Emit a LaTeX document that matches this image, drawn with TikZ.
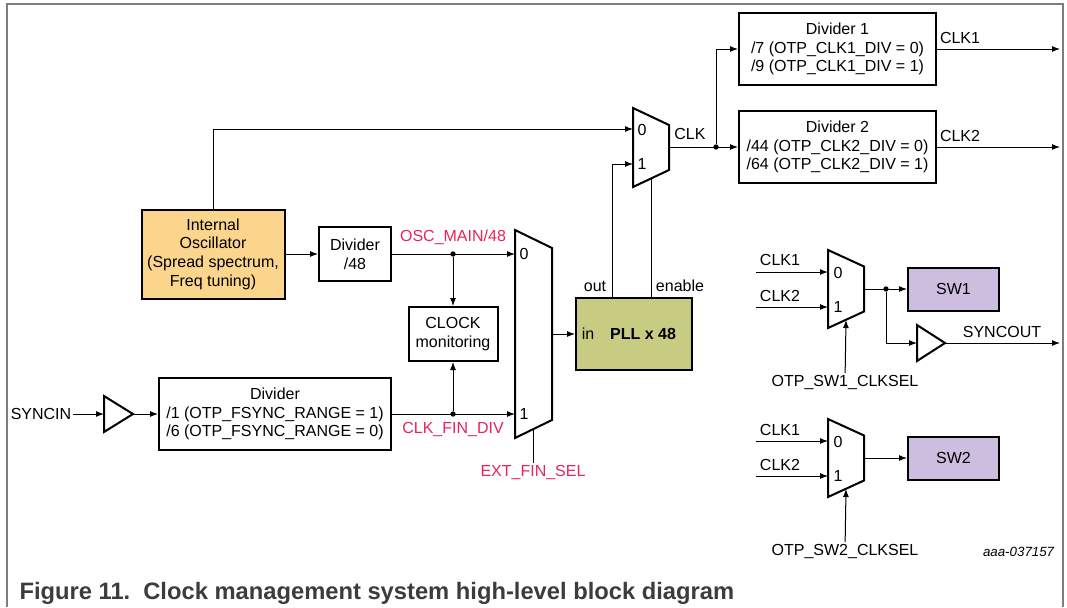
\documentclass[tikz,border=0pt]{standalone}
\usepackage{fontspec}
\setmainfont{Liberation Sans}
\usetikzlibrary{arrows.meta}

\definecolor{oscfill}{RGB}{251,213,139}
\definecolor{pllfill}{RGB}{200,204,130}
\definecolor{swfill}{RGB}{205,190,224}
\definecolor{sigred}{RGB}{232,35,90}
\definecolor{framegray}{RGB}{125,125,125}
\definecolor{capgray}{RGB}{60,60,60}

\tikzset{every picture/.style={line width=0.75pt}}
\tikzset{
  box/.style={draw, line width=1.5pt, align=center, inner sep=0pt},
  arr/.style={-{Latex[length=6pt,width=4.5pt]}},
  lbl/.style={inner sep=1pt},
  sig/.style={text=sigred, inner sep=1pt},
  dot/.style={circle, fill, inner sep=0pt, minimum size=4pt},
  muxbody/.style={draw, line width=1.5pt, line join=miter},
}

\begin{document}
\begin{tikzpicture}[x=0.75pt,y=0.75pt,yscale=-1,xscale=1,font=\fontsize{12}{14}\selectfont]
        \useasboundingbox (0,0) rectangle (1067,607);
        %Frame
        \draw[framegray, line width=1pt] (7,607) -- (7,4) -- (1063,4) -- (1063,607);

        %Blocks
        \node[box, fill=oscfill, minimum width=107.25pt, minimum height=66.75pt] (osc) at (213,254) {Internal\\Oscillator\\(Spread spectrum,\\Freq tuning)};
        \node[box, minimum width=54pt, minimum height=40.5pt] (div48) at (355,254) {Divider\\/48};
        \node[box, minimum width=66.75pt, minimum height=40.5pt] (mon) at (453,334) {CLOCK\\monitoring};
        \node[box, minimum width=174pt, minimum height=54pt] (divs) at (275,414) {Divider\\/1 (OTP\_FSYNC\_RANGE = 1)\\/6 (OTP\_FSYNC\_RANGE = 0)};
        \node[box, fill=pllfill, minimum width=87pt, minimum height=54pt] (pll) at (634,334) {};
        \node[lbl] (pllin) at (588,334) {in};
        \node[lbl, font=\fontsize{12}{14}\selectfont\bfseries] (plltxt) at (643,334) {PLL x 48};
        \node[box, minimum width=147.75pt, minimum height=54pt] (div1) at (837.5,49) {Divider 1\\/7 (OTP\_CLK1\_DIV = 0)\\/9 (OTP\_CLK1\_DIV = 1)};
        \node[box, minimum width=147.75pt, minimum height=54pt] (div2) at (837.5,147) {Divider 2\\/44 (OTP\_CLK2\_DIV = 0)\\/64 (OTP\_CLK2\_DIV = 1)};
        \node[box, fill=swfill, minimum width=68.25pt, minimum height=32.25pt] (sw1) at (953.5,289) {SW1};
        \node[box, fill=swfill, minimum width=68.25pt, minimum height=32.25pt] (sw2) at (953.5,458) {SW2};

        %Mux EXT_FIN_SEL
        \draw[muxbody] (515,230) -- (552,248) -- (552,420) -- (515,438) -- cycle;
        \coordinate (fmux-in0) at (515,254);
        \coordinate (fmux-in1) at (515,414);
        \coordinate (fmux-out) at (552,334);
        \coordinate (fmux-sel) at (533,429);
        \node[lbl] (fmux0) at (524,254) {0};
        \node[lbl] (fmux1) at (524,414) {1};

        %Mux CLK
        \draw[muxbody] (633,108) -- (669,125) -- (669,170) -- (633,187) -- cycle;
        \coordinate (cmux-in0) at (633,129);
        \coordinate (cmux-in1) at (633,164);
        \coordinate (cmux-out) at (669,147);
        \coordinate (cmux-sel) at (651,178.5);
        \node[lbl] (cmux0) at (642,130) {0};
        \node[lbl] (cmux1) at (642,164) {1};

        %Mux SW1
        \draw[muxbody] (828,250) -- (864,266.5) -- (864,311.5) -- (828,328) -- cycle;
        \coordinate (smux1-in0) at (828,272);
        \coordinate (smux1-in1) at (828,307);
        \coordinate (smux1-out) at (864,289);
        \coordinate (smux1-sel) at (846,320);
        \node[lbl] (smux10) at (838,273) {0};
        \node[lbl] (smux11) at (838,307) {1};

        %Mux SW2
        \draw[muxbody] (828,419) -- (864,435.5) -- (864,480.5) -- (828,497) -- cycle;
        \coordinate (smux2-in0) at (828,441);
        \coordinate (smux2-in1) at (828,476);
        \coordinate (smux2-out) at (864,458);
        \coordinate (smux2-sel) at (846,489);
        \node[lbl] (smux20) at (838,442) {0};
        \node[lbl] (smux21) at (838,476) {1};

        %Buffers
        \draw[line width=1.5pt, line join=miter] (104,396) -- (133,414) -- (104,432) -- cycle;
        \coordinate (bi-in) at (104,414);
        \coordinate (bi-out) at (133,414);
        \draw[line width=1.5pt, line join=miter] (917,325) -- (945,343) -- (917,361) -- cycle;
        \coordinate (bo-in) at (917,343);
        \coordinate (bo-out) at (945,343);

        %Labels
        \node[lbl] (syncin) at (41,414) {SYNCIN};
        \node[sig] (oscmain) at (453,237) {OSC\_MAIN/48};
        \node[sig] (clkfin) at (453,429) {CLK\_FIN\_DIV};
        \node[sig] (extsel) at (533,472) {EXT\_FIN\_SEL};
        \node[lbl] (outlbl) at (595,286) {out};
        \node[lbl] (enlbl) at (680,286) {enable};
        \node[lbl] (clklbl) at (690,134) {CLK};
        \node[lbl] (clk1lbl) at (960,38) {CLK1};
        \node[lbl] (clk2lbl) at (960,136) {CLK2};
        \node[lbl] (s1clk1) at (780,260) {CLK1};
        \node[lbl] (s1clk2) at (780,296) {CLK2};
        \node[lbl] (s2clk1) at (780,430) {CLK1};
        \node[lbl] (s2clk2) at (780,465) {CLK2};
        \node[lbl] (syncout) at (1002,332) {SYNCOUT};
        \node[lbl] (sel1) at (845,382) {OTP\_SW1\_CLKSEL};
        \node[lbl] (sel2) at (845,551) {OTP\_SW2\_CLKSEL};
        \node[lbl, anchor=east, font=\fontsize{10}{12}\selectfont\itshape] (docid) at (1056,552) {aaa-037157};
        \node[anchor=base west, inner sep=0pt, text=capgray, font=\fontsize{17.8}{22}\selectfont\bfseries] (caption) at (19,599) {Figure 11.\hspace{0.55em}Clock management system high-level block diagram};

        %Junctions
        \node[dot] (j1) at (453,254) {};
        \node[dot] (j2) at (453,414) {};
        \node[dot] (j3) at (716,147) {};
        \node[dot] (j4) at (886,289) {};
        \coordinate (pll-out) at (612,298);
        \coordinate (pll-en) at (651,298);
        \coordinate (clk1-end) at (1060,49);
        \coordinate (clk2-end) at (1060,147);
        \coordinate (sout-end) at (1060,343);
        \coordinate (s1-a) at (756,272);
        \coordinate (s1-b) at (756,307);
        \coordinate (s2-a) at (756,441);
        \coordinate (s2-b) at (756,476);

        %Connections
        \draw[arr] (osc) -- (div48);
        \draw[arr] (div48) -- (fmux-in0);
        \draw[arr] (j1) -- (mon);
        \draw[arr] (syncin) -- (bi-in);
        \draw[arr] (bi-out) -- (divs);
        \draw[arr] (divs) -- (fmux-in1);
        \draw[arr] (j2) -- (mon);
        \draw (fmux-sel) -- (extsel);
        \draw[arr] (fmux-out) -- (pll);
        \draw[arr] (osc) |- (cmux-in0);
        \draw[arr] (pll-out) |- (cmux-in1);
        \draw (pll-en) -- (cmux-sel);
        \draw[arr] (cmux-out) -- (div2);
        \draw[arr] (j3) |- (div1);
        \draw[arr] (div1) -- (clk1-end);
        \draw[arr] (div2) -- (clk2-end);
        \draw[arr] (s1-a) -- (smux1-in0);
        \draw[arr] (s1-b) -- (smux1-in1);
        \draw[arr] (smux1-out) -- (sw1);
        \draw[arr] (j4) |- (bo-in);
        \draw[arr] (bo-out) -- (sout-end);
        \draw[arr] (sel1) -- (smux1-sel);
        \draw[arr] (s2-a) -- (smux2-in0);
        \draw[arr] (s2-b) -- (smux2-in1);
        \draw[arr] (smux2-out) -- (sw2);
        \draw[arr] (sel2) -- (smux2-sel);

        \end{tikzpicture}
\end{document}
